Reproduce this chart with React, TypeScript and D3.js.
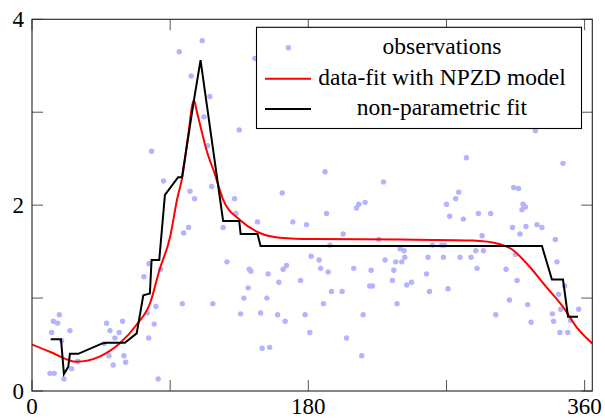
import * as d3 from 'd3';

// observations: day of year, concentration
const obsDay = [
  95.9, 103.7, 77.9, 85.7, 102.9, 105.9, 110.9, 115.9, 112, 135, 145.2, 190.9, 229, 163, 117, 132,
  212.9, 217, 211.4, 283, 345.9, 278, 276, 270, 313.8, 316.9, 319.9, 321.4, 319.2, 327.9,
  98.8, 102, 97.9, 83.8, 76.2, 72.9, 75.1, 80.7, 79.6, 76, 82.2, 59, 56.8, 54, 50.8, 48.6, 46.9,
  50.1, 52.9, 59.9, 61, 29.8, 25.8, 24.7, 19.3, 17.8, 16.7, 13.9, 12.8, 11.7, 14.5, 20.8,
  124.5, 132.8, 146.9, 169.9, 178.8, 191.9, 202.7, 225.9, 194, 127, 141.5, 142.6, 153.8, 163.6,
  165.8, 160.8, 174.9, 181.8, 187, 188, 192.9, 209.6, 220.9, 230, 237, 235.7, 234.8, 220, 221.8,
  195.1, 202, 140.8, 138, 153, 117.8, 189.9, 237.8, 135.9, 148.9, 160, 164.9, 177.9, 215.7, 181,
  204.9, 214.8, 149.9, 154.8, 272.1, 281, 290.8, 298.8, 313, 317.9, 321.8, 329, 332.2, 340.9,
  293.2, 260.9, 266.7, 268.7, 289.1, 294.1, 239.8, 242.4, 240.9, 242.8, 258, 268, 278.8, 286,
  314.9, 289.9, 308.8, 244.1, 247.2, 257, 258.9, 271, 316, 342, 347, 343.1, 311, 322.9, 302.1,
  325.1, 339, 339.8, 344.4, 350.9, 356.1, 343.9, 349, 114.4,
];
const obsValue = [
  3.65, 3.39, 2.58, 2.26, 2.15, 2.07, 3.77, 3.17, 2.95, 2.81, 3.58, 2.36, 2.25, 2.13, 2.2, 2.07,
  2.01, 2.03, 1.97, 2.51, 2.45, 2.14, 2.07, 2.01, 2.19, 2.18, 2.01, 1.98, 1.95, 2.8,
  1.7, 1.76, 0.94, 1.31, 1.37, 1.23, 0.84, 0.91, 0.72, 0.57, 0.13, 0.75, 0.63, 0.57, 0.65, 0.73, 0.51,
  0.38, 0.28, 0.38, 0.31, 0.32, 0.24, 0.65, 0.54, 0.82, 0.73, 0.75, 0.63, 0.19, 0.19, 0.13,
  1.76, 1.91, 1.82, 1.82, 1.79, 1.91, 1.69, 1.63, 1.57, 1.39, 1.31, 1.29, 1.26, 1.31,
  1.35, 1.17, 1.19, 1.45, 1.41, 1.32, 1.28, 1.32, 1.3, 1.41, 1.39, 1.3, 1.19, 1.13, 1.13,
  1.07, 1.07, 1.11, 1.0, 1.0, 0.94, 0.94, 0.94, 0.83, 0.84, 0.82, 0.75, 0.82, 0.82, 0.63,
  0.57, 0.38, 0.46, 0.47, 1.88, 1.85, 1.91, 1.91, 1.76, 1.69, 1.77, 1.79, 1.76, 1.63,
  1.67, 1.57, 1.57, 1.57, 1.51, 1.51, 1.53, 1.51, 1.39, 1.44, 1.44, 1.44, 1.44, 1.44,
  1.47, 1.32, 1.31, 1.14, 1.17, 1.26, 1.07, 1.1, 1.19, 1.39, 1.13, 1.04, 0.98, 0.93, 0.82,
  0.74, 0.83, 0.75, 0.88, 0.76, 0.88, 0.63, 0.63, 2.64,
];

// NPZD model fit
const npzdDay = [
  0, 12, 29, 44, 57, 68, 77, 83, 90, 94.5, 98, 101.5, 105.5, 107.2, 110, 113.7, 119, 124.5,
  135.5, 148.5, 161.5, 183, 240, 287, 305, 313, 324, 335, 345.7, 354.6, 365,
];
const npzdValue = [
  0.5, 0.42, 0.315, 0.37, 0.51, 0.71, 0.95, 1.3, 1.66, 2.06, 2.31, 2.72, 3.13, 3.02, 2.83, 2.59, 2.34, 2.06,
  1.84, 1.7, 1.65, 1.635, 1.63, 1.62, 1.58, 1.52, 1.34, 1.12, 0.91, 0.69, 0.51,
];

// non-parametric fit
const npDay = [
  12.2, 18.9, 20.8, 23.6, 24.7, 30.1, 45.4, 48.6, 60.5, 68.2, 72.5, 74.7, 76.8, 77.9, 82.9, 86.6,
  95.2, 97.7, 105.5, 109.8, 124.5, 135, 135.9, 146.9, 148.9, 332.2, 338.7, 345.9, 349.2, 355.7,
];
const npValue = [
  0.556, 0.556, 0.183, 0.26, 0.4, 0.4, 0.51, 0.52, 0.52, 0.62, 1.03, 1.04, 1.05, 1.41, 1.41, 2.11,
  2.3, 2.3, 3.13, 3.56, 1.83, 1.83, 1.69, 1.69, 1.56, 1.56, 1.2, 1.2, 0.8, 0.8,
];

const xTicks = [0, 90, 180, 270, 360];
const xTickLabels = ['0', '', '180', '', '360'];
const yTicks = [0, 1, 2, 3, 4];
const yTickLabels = ['0', '', '2', '', '4'];
const legendLabels = ['observations', 'data-fit with NPZD model', 'non-parametric fit'];

const W = 605;
const H = 418;
const L = 32;
const R = 592.3;
const T = 19.3;
const B = 391;
const FONT = 'Liberation Serif';
const TICK = 11;

export default function App() {
  const x = d3.scaleLinear().domain([0, 365]).range([L, R]);
  const y = d3.scaleLinear().domain([0, 4]).range([B, T]);

  const npzdLine = d3.line<number>()
    .x((_, i) => x(npzdDay[i]))
    .y((d) => y(d))
    .curve(d3.curveMonotoneX);
  const npLine = d3.line<number>()
    .x((_, i) => x(npDay[i]))
    .y((d) => y(d));

  // legend box
  const lx0 = 256.5, lx1 = 581.5, ly0 = 27.3, ly1 = 128.5;
  const rowY = [47.7, 78.7, 109];
  const textX = 442;

  return (
    <svg width={W} height={H} style={{ position: 'absolute', left: 0, top: 0, background: '#fff' }}>
      <defs>
        <clipPath id="plot">
          <rect x={L} y={T} width={R - L} height={B - T} />
        </clipPath>
      </defs>

      {/* ticks, inside on all sides */}
      <g stroke="#555" strokeWidth={1}>
        {xTicks.map((t) => (
          <g key={'x' + t}>
            <line x1={x(t)} x2={x(t)} y1={B} y2={B - TICK} />
            <line x1={x(t)} x2={x(t)} y1={T} y2={T + TICK} />
          </g>
        ))}
        {yTicks.map((t) => (
          <g key={'y' + t}>
            <line x1={L} x2={L + TICK} y1={y(t)} y2={y(t)} />
            <line x1={R} x2={R - TICK} y1={y(t)} y2={y(t)} />
          </g>
        ))}
      </g>

      <g clipPath="url(#plot)">
        {obsValue.map((v, i) => (
          <circle key={i} cx={x(obsDay[i])} cy={y(v)} r={2.7} fill="#b3b3ff" />
        ))}
        <path d={npzdLine(npzdValue) ?? ''} fill="none" stroke="#ff0000" strokeWidth={2} />
        <path d={npLine(npValue) ?? ''} fill="none" stroke="#000" strokeWidth={2} strokeLinejoin="miter" />
      </g>

      <rect x={L} y={T} width={R - L} height={B - T} fill="none" stroke="#222" strokeWidth={1.1} />

      {/* tick labels */}
      {xTicks.map((t, i) => (
        <text key={'xl' + t} x={x(t)} y={413.5} textAnchor="middle"
          fontFamily={FONT} fontSize={23} fill="#000">{xTickLabels[i]}</text>
      ))}
      {yTicks.map((t, i) => (
        <text key={'yl' + t} x={24} y={y(t) + 8} textAnchor="end"
          fontFamily={FONT} fontSize={23} fill="#000">{yTickLabels[i]}</text>
      ))}

      {/* legend */}
      <rect x={lx0} y={ly0} width={lx1 - lx0} height={ly1 - ly0} fill="#fff" stroke="#000" strokeWidth={1.1} />
      <circle cx={288.3} cy={rowY[0]} r={2.7} fill="#b3b3ff" />
      <line x1={265} x2={311} y1={rowY[1]} y2={rowY[1]} stroke="#ff0000" strokeWidth={2} />
      <line x1={265} x2={311} y1={rowY[2]} y2={rowY[2]} stroke="#000" strokeWidth={2} />
      {legendLabels.map((s, i) => (
        <text key={s} x={textX} y={rowY[i] + 6.3} textAnchor="middle"
          fontFamily={FONT} fontSize={23.5} fill="#000">{s}</text>
      ))}
    </svg>
  );
}
